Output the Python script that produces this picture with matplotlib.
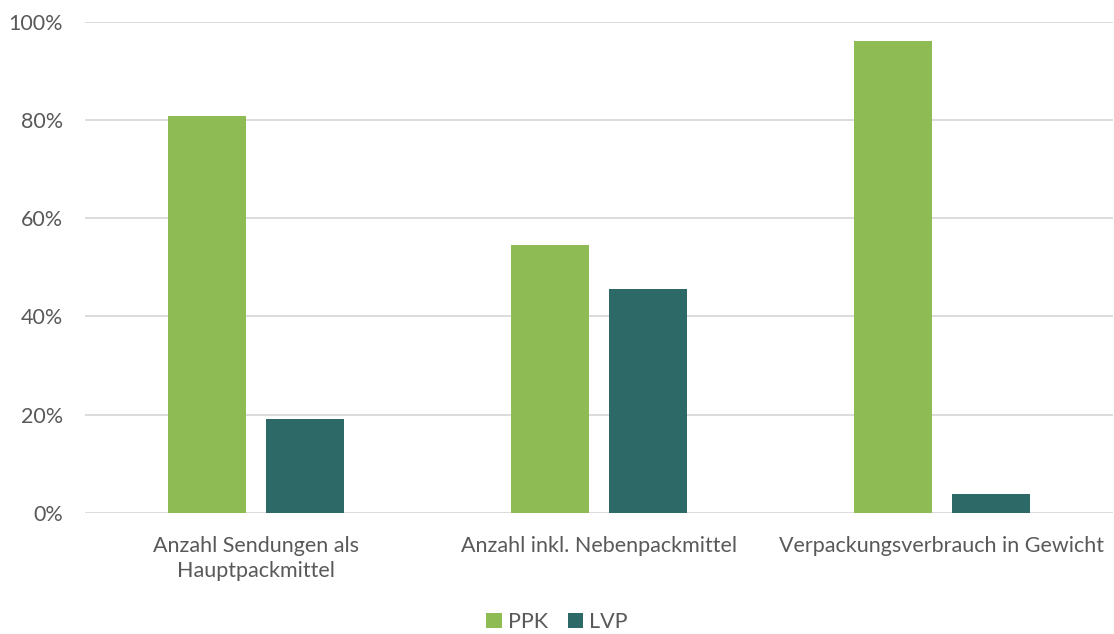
import matplotlib.pyplot as plt
import numpy as np
from matplotlib.ticker import PercentFormatter

plt.rcParams['font.family'] = ['Lato', 'DejaVu Sans']

categories = ['Anzahl Sendungen als\nHauptpackmittel',
              'Anzahl inkl. Nebenpackmittel',
              'Verpackungsverbrauch in Gewicht']
ppk = [80.9, 54.5, 96.1]
lvp = [19.1, 45.5, 3.9]

green = '#8fbb55'
teal = '#2d6a67'
grey = '#595959'

fig = plt.figure(figsize=(11.14, 6.34), dpi=100)
ax = fig.add_axes([85 / 1114, 1 - 512.7 / 634, 1028 / 1114, 490.7 / 634])

x = np.arange(len(categories))
w = 0.227
off = 0.143
ax.bar(x - off, ppk, w, color=green, label='PPK', zorder=3)
ax.bar(x + off, lvp, w, color=teal, label='LVP', zorder=3)

ax.set_xlim(-0.5, 2.5)
ax.set_ylim(0, 100)
ax.set_yticks(np.arange(0, 101, 20))
ax.yaxis.set_major_formatter(PercentFormatter(decimals=0))
ax.grid(axis='y', color='#d9d9d9', linewidth=1.3, zorder=0)
for s in ax.spines.values():
    s.set_visible(False)
ax.tick_params(length=0, labelsize=15.5, labelcolor=grey)
ax.tick_params(axis='y', pad=16)
ax.tick_params(axis='x', pad=17)
ax.set_xticks(x)
ax.set_xticklabels(categories, linespacing=1.3)

fig.legend(loc='lower center', bbox_to_anchor=(0.5, -0.027), ncol=2, frameon=False,
           fontsize=15.5, labelcolor=grey, handlelength=0.7, handleheight=0.7,
           handletextpad=0.3, columnspacing=0.9)

fig.savefig('out.png', dpi=100)
